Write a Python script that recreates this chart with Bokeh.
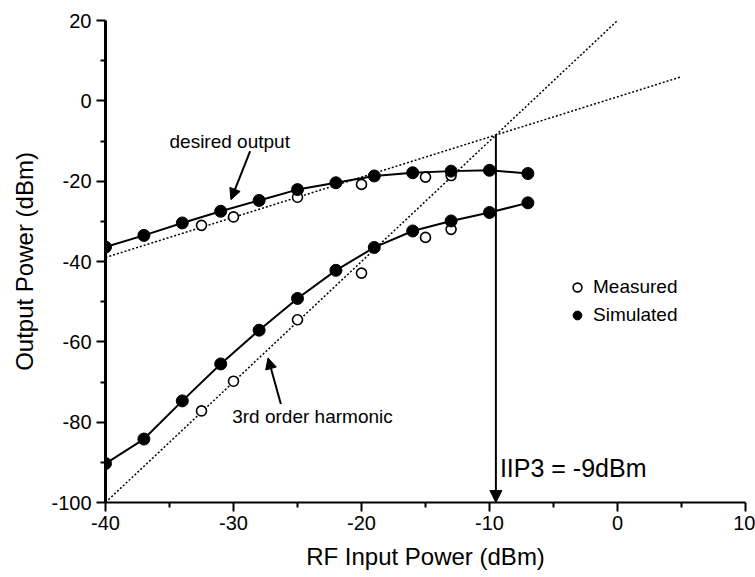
from bokeh.plotting import figure
from bokeh.models import (Range1d, FixedTicker, Label, Arrow, NormalHead, Legend, LegendItem, ColumnDataSource)
from bokeh.embed import file_html
from bokeh.resources import INLINE

# --- data ---
sim_x = [-40, -37, -34, -31, -28, -25, -22, -19, -16, -13, -10, -7]
sim_desired = [-36.4, -33.5, -30.4, -27.5, -24.8, -22.1, -20.4, -18.7, -17.9, -17.5, -17.3, -18.1]
sim_harmonic = [-90.3, -84.2, -74.7, -65.5, -57.1, -49.2, -42.2, -36.5, -32.4, -29.9, -27.8, -25.4]

meas_x = [-32.5, -30, -25, -20, -15, -13]
meas_desired = [-31.0, -28.9, -24.0, -20.8, -19.0, -18.6]
meas_harmonic = [-77.2, -69.8, -54.5, -42.9, -34.0, -32.0]

# extrapolated ideal lines (slope 1 and slope 3)
fund_x = [-40, 5]
fund_y = [-39, 6]
third_x = [-40, 0]
third_y = [-100, 20]

iip3_x = -9.5
iip3_y = -8.5

x_ticks = [-40, -30, -20, -10, 0, 10]
x_minor = [-35, -25, -15, -5, 5]
y_ticks = [-100, -80, -60, -40, -20, 0, 20]
y_minor = [-90, -70, -50, -30, -10, 10]

FONT = "Liberation Sans"

p = figure(width=755, height=577, output_backend="svg", toolbar_location=None,
           x_range=Range1d(-40, 10), y_range=Range1d(-100, 20),
           min_border_left=105, min_border_right=10, min_border_top=20, min_border_bottom=75)
p.outline_line_color = None
p.xgrid.visible = False
p.ygrid.visible = False
p.background_fill_color = "white"
p.border_fill_color = "white"

# axes
p.xaxis.ticker = FixedTicker(ticks=x_ticks, minor_ticks=x_minor)
p.yaxis.ticker = FixedTicker(ticks=y_ticks, minor_ticks=y_minor)
p.xaxis.major_label_overrides = {t: str(t) for t in x_ticks}
p.yaxis.major_label_overrides = {t: str(t) for t in y_ticks}
for ax in (p.xaxis[0], p.yaxis[0]):
    ax.axis_line_color = "black"
    ax.major_tick_line_color = "black"
    ax.minor_tick_line_color = "black"
    ax.major_tick_in = 0
    ax.major_tick_out = 9
    ax.minor_tick_in = 0
    ax.minor_tick_out = 5
    ax.major_tick_line_width = 2
    ax.minor_tick_line_width = 2
    ax.major_label_text_font = FONT
    ax.major_label_text_font_size = "20px"
    ax.major_label_text_color = "black"
    ax.axis_label_text_font = FONT
    ax.axis_label_text_font_size = "24px"
    ax.axis_label_text_font_style = "normal"
    ax.axis_label_text_color = "black"
p.yaxis.axis_line_width = 3
p.xaxis.axis_line_width = 2
p.xaxis.axis_label = "RF Input Power (dBm)"
p.yaxis.axis_label = "Output Power (dBm)"
p.xaxis.major_label_standoff = 4
p.yaxis.major_label_standoff = 5
p.xaxis.axis_label_standoff = 10
p.yaxis.axis_label_standoff = 10

# ideal lines (dotted)
p.line(fund_x, fund_y, line_color="black", line_width=1.5, line_dash="2 2")
p.line(third_x, third_y, line_color="black", line_width=1.5, line_dash="2 2")

# simulated curves
p.line(sim_x, sim_desired, line_color="black", line_width=2)
p.line(sim_x, sim_harmonic, line_color="black", line_width=2)

meas_src = ColumnDataSource(dict(x=meas_x + meas_x, y=meas_desired + meas_harmonic))
sim_src = ColumnDataSource(dict(x=sim_x + sim_x, y=sim_desired + sim_harmonic))

r_meas = p.scatter("x", "y", source=meas_src, marker="circle", size=10,
                   fill_color="white", line_color="black", line_width=1.6)
r_sim = p.scatter("x", "y", source=sim_src, marker="circle", size=12,
                  fill_color="black", line_color="black")

# IIP3 arrow
p.add_layout(Arrow(x_start=iip3_x, y_start=iip3_y, x_end=iip3_x, y_end=-100,
                   line_width=2, line_color="black",
                   end=NormalHead(size=12, fill_color="black", line_color="black")))
p.add_layout(Label(x=iip3_x, y=-91.5, x_offset=4, text="IIP3 = -9dBm",
                   text_font=FONT, text_font_size="25px", text_baseline="middle", text_color="black"))

# annotation arrows
p.add_layout(Arrow(x_start=-28.7, y_start=-12.5, x_end=-30.2, y_end=-24.6,
                   line_width=2, line_color="black",
                   end=NormalHead(size=11, fill_color="black", line_color="black")))
p.add_layout(Label(x=-35, y=-10, text="desired output", text_font=FONT,
                   text_font_size="19px", text_baseline="alphabetic", text_color="black"))

p.add_layout(Arrow(x_start=-26.3, y_start=-75.5, x_end=-27.3, y_end=-64.0,
                   line_width=2, line_color="black",
                   end=NormalHead(size=11, fill_color="black", line_color="black")))
p.add_layout(Label(x=-30.1, y=-78.7, text="3rd order harmonic", text_font=FONT,
                   text_font_size="19px", text_baseline="middle", text_color="black"))

legend = Legend(items=[LegendItem(label="Measured", renderers=[r_meas]),
                       LegendItem(label="Simulated", renderers=[r_sim])],
                location=(461, 176), orientation="vertical",
                glyph_width=22, glyph_height=22, label_height=22, spacing=6,
                label_standoff=5, padding=0, margin=0,
                border_line_color=None, background_fill_alpha=0,
                label_text_font=FONT, label_text_font_size="19px", label_text_color="black")
p.add_layout(legend)

open("out.html", "w").write(file_html(p, INLINE))
